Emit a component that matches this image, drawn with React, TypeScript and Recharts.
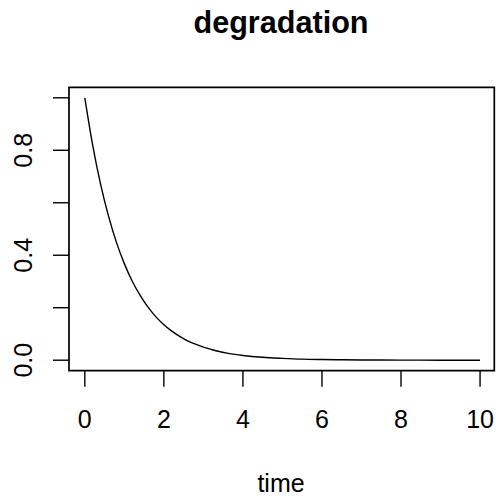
import { LineChart, Line, XAxis, YAxis, ReferenceArea } from "recharts";

const times = [
  0, 0.2, 0.4, 0.6, 0.8, 1.0, 1.2, 1.4, 1.6, 1.8, 2.0, 2.2, 2.4, 2.6, 2.8, 3.0,
  3.2, 3.4, 3.6, 3.8, 4.0, 4.5, 5, 5.5, 6, 6.5, 7, 7.5, 8, 8.5, 9, 9.5, 10,
];
const amounts = [
  1.0, 0.819, 0.67, 0.549, 0.449, 0.368, 0.301, 0.247, 0.202, 0.165, 0.135,
  0.111, 0.091, 0.074, 0.061, 0.05, 0.041, 0.033, 0.027, 0.022, 0.018, 0.011,
  0.007, 0.004, 0.0025, 0.0015, 0.001, 0.0006, 0.0003, 0.0002, 0.0001, 0.0001,
  0,
];
const xTicks = [0, 2, 4, 6, 8, 10];
const yTicks = [0, 0.2, 0.4, 0.6, 0.8, 1.0];
const yLabelled = [0, 0.4, 0.8];

const data = times.map((t, i) => ({ t, y: amounts[i] }));

const FONT = "'Liberation Sans', Arial, Helvetica, sans-serif";
const X_DOMAIN = [-0.4, 10.36];
const Y_DOMAIN = [-0.04, 1.04];

function XTick(props: any) {
  const { x, payload } = props;
  return (
    <text x={x} y={428} textAnchor="middle" fontSize={25} fontFamily={FONT} fill="#000">
      {String(payload.value)}
    </text>
  );
}

function YTick(props: any) {
  const { y, payload } = props;
  const v = Number(payload.value);
  if (!yLabelled.some((l) => Math.abs(l - v) < 1e-9)) return <g />;
  return (
    <text
      x={32}
      y={y}
      transform={`rotate(-90, 32, ${y})`}
      textAnchor="middle"
      fontSize={25}
      fontFamily={FONT}
      fill="#000"
    >
      {v.toFixed(1)}
    </text>
  );
}

export default function App() {
  return (
    <div style={{ position: "absolute", left: 0, top: 0, width: 496, height: 499, background: "#fff" }}>
      <LineChart
        width={496}
        height={499}
        data={data}
        margin={{ top: 87.3, left: 29, right: 1.7, bottom: 88.3 }}
      >
        <XAxis
          dataKey="t"
          type="number"
          domain={X_DOMAIN}
          ticks={xTicks}
          allowDataOverflow
          height={40}
          axisLine={false}
          tickSize={16}
          tickLine={{ stroke: "#000", strokeWidth: 1.4 }}
          tick={<XTick />}
          interval={0}
        />
        <YAxis
          type="number"
          domain={Y_DOMAIN}
          ticks={yTicks}
          allowDataOverflow
          width={40}
          axisLine={false}
          tickSize={16}
          tickLine={{ stroke: "#000", strokeWidth: 1.4 }}
          tick={<YTick />}
          interval={0}
        />
        <ReferenceArea
          x1={X_DOMAIN[0]}
          x2={X_DOMAIN[1]}
          y1={Y_DOMAIN[0]}
          y2={Y_DOMAIN[1]}
          fill="none"
          stroke="#000"
          strokeWidth={1.7}
          ifOverflow="visible"
        />
        <Line
          type="monotone"
          dataKey="y"
          stroke="#000"
          strokeWidth={1.4}
          dot={false}
          isAnimationActive={false}
        />
      </LineChart>
      <svg
        width={496}
        height={499}
        style={{ position: "absolute", left: 0, top: 0, pointerEvents: "none" }}
      >
        <text x={281} y={33} textAnchor="middle" fontSize={30.6} fontWeight="bold" fontFamily={FONT} fill="#000">
          degradation
        </text>
        <text x={281} y={492} textAnchor="middle" fontSize={25} fontFamily={FONT} fill="#000">
          time
        </text>
      </svg>
    </div>
  );
}
